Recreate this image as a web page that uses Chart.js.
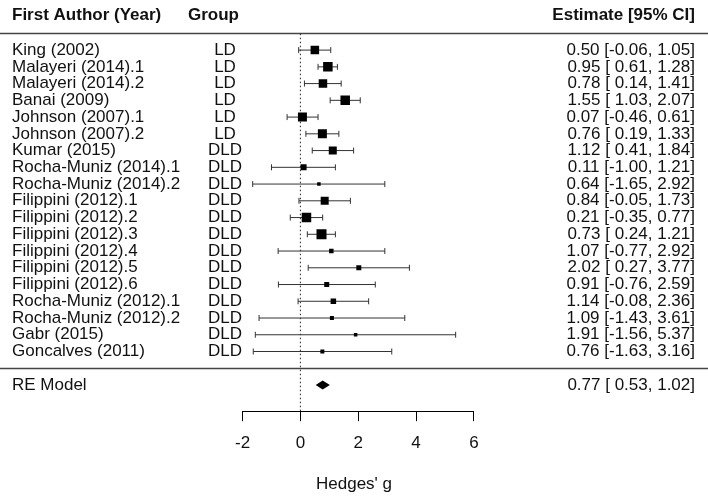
<!DOCTYPE html>
<html>
<head>
<meta charset="utf-8">
<script src="https://cdn.jsdelivr.net/npm/chart.js@4/dist/chart.umd.min.js"></script>
<style>
  html, body { margin: 0; padding: 0; background: #fff; }
  #wrap { width: 708px; height: 496px; }
</style>
</head>
<body>
<div id="wrap"><canvas id="c" width="708" height="496" style="width:708px;height:496px"></canvas></div>
<script>
// ---- data ----
const authors = [
  'King (2002)', 'Malayeri (2014).1', 'Malayeri (2014).2', 'Banai (2009)',
  'Johnson (2007).1', 'Johnson (2007).2', 'Kumar (2015)', 'Rocha-Muniz (2014).1',
  'Rocha-Muniz (2014).2', 'Filippini (2012).1', 'Filippini (2012).2', 'Filippini (2012).3',
  'Filippini (2012).4', 'Filippini (2012).5', 'Filippini (2012).6', 'Rocha-Muniz (2012).1',
  'Rocha-Muniz (2012).2', 'Gabr (2015)', 'Goncalves (2011)'
];
const groups = ['LD','LD','LD','LD','LD','LD','DLD','DLD','DLD','DLD','DLD','DLD','DLD','DLD','DLD','DLD','DLD','DLD','DLD'];
const estimates = [0.50, 0.95, 0.78, 1.55, 0.07, 0.76, 1.12, 0.11, 0.64, 0.84, 0.21, 0.73, 1.07, 2.02, 0.91, 1.14, 1.09, 1.91, 0.76];
const ciLower   = [-0.06, 0.61, 0.14, 1.03, -0.46, 0.19, 0.41, -1.00, -1.65, -0.05, -0.35, 0.24, -0.77, 0.27, -0.76, -0.08, -1.43, -1.56, -1.63];
const ciUpper   = [1.05, 1.28, 1.41, 2.07, 0.61, 1.33, 1.84, 1.21, 2.92, 1.73, 0.77, 1.21, 2.92, 3.77, 2.59, 2.36, 3.61, 5.37, 3.16];
// relative study weights (square sizes, px side)
const weights   = [8.5, 9.5, 8.5, 9.5, 9, 9, 8, 6, 3.5, 8, 9.5, 10, 4.5, 5, 5, 5.5, 4, 3.5, 4];
const reEstimate = 0.77;
const reLower = 0.53;
const reUpper = 1.02;
const xTickValues = [-2, 0, 2, 4, 6];
const xAxisTitle = "Hedges' g";
const headers = ['First Author (Year)', 'Group', 'Estimate [95% CI]'];

// ---- layout helpers ----
const FONT = "'Liberation Sans', Arial, Helvetica, sans-serif";
const k = authors.length;
const rows = authors.map((_, i) => k - i);   // k..1
const reRow = -1;
const headerRow = k + 2;
const X_MIN = -10.146, X_MAX = 13.854;
const Y_MIN = -2.565, Y_MAX = 21.57;

function fmt(v) { return v.toFixed(2); }
function fmtLow(v) { return (v < 0 ? '' : ' ') + v.toFixed(2); }
function ciText(e, l, u) { return fmt(e) + ' [' + fmtLow(l) + ', ' + fmt(u) + ']'; }

const datasets = [];
// reference line at 0
datasets.push({
  type: 'line', order: 10,
  data: [{x: 0, y: Y_MIN}, {x: 0, y: k + 1}],
  borderColor: '#222', borderWidth: 1, borderDash: [1.5, 2.5],
  pointRadius: 0
});
// CI lines with caps
authors.forEach((a, i) => {
  datasets.push({
    type: 'line', order: 5,
    data: [{x: ciLower[i], y: rows[i]}, {x: ciUpper[i], y: rows[i]}],
    borderColor: '#333', borderWidth: 1,
    pointStyle: 'line', pointRotation: 90, pointRadius: 3,
    pointBorderWidth: 1, pointBorderColor: '#333', pointBackgroundColor: '#333'
  });
});
// squares
datasets.push({
  type: 'scatter', order: 1,
  data: estimates.map((e, i) => ({x: e, y: rows[i]})),
  pointStyle: 'rect',
  pointRadius: weights.map(w => w / Math.SQRT2 * 1.0),
  backgroundColor: '#000', borderWidth: 0, pointBorderWidth: 0
});

const forestPlugin = {
  id: 'forest',
  beforeDatasetsDraw(chart) {
    const ctx = chart.ctx;
    const xs = chart.scales.x, ys = chart.scales.y;
    ctx.save();
    ctx.strokeStyle = '#444';
    ctx.lineWidth = 1.3;
    [k + 1, 0].forEach(r => {
      const y = Math.round(ys.getPixelForValue(r)) + 0.5;
      ctx.beginPath();
      ctx.moveTo(0, y);
      ctx.lineTo(chart.width, y);
      ctx.stroke();
    });
    // x axis line from first to last tick
    const yb = Math.round(chart.chartArea.bottom) + 0.5;
    ctx.strokeStyle = '#000';
    ctx.lineWidth = 1;
    ctx.beginPath();
    ctx.moveTo(xs.getPixelForValue(xTickValues[0]), yb);
    ctx.lineTo(xs.getPixelForValue(xTickValues[xTickValues.length - 1]), yb);
    ctx.stroke();
    ctx.restore();
  },
  afterDatasetsDraw(chart) {
    const ctx = chart.ctx;
    const xs = chart.scales.x, ys = chart.scales.y;
    ctx.save();
    // RE diamond
    const yc = ys.getPixelForValue(reRow);
    ctx.fillStyle = '#000';
    ctx.beginPath();
    ctx.moveTo(xs.getPixelForValue(reLower), yc);
    ctx.lineTo(xs.getPixelForValue(reEstimate), yc - 4.5);
    ctx.lineTo(xs.getPixelForValue(reUpper), yc);
    ctx.lineTo(xs.getPixelForValue(reEstimate), yc + 4.5);
    ctx.closePath();
    ctx.fill();

    ctx.fillStyle = '#111';
    ctx.textBaseline = 'middle';
    // headers
    const yh = ys.getPixelForValue(headerRow) - 1;
    ctx.font = 'bold 17px ' + FONT;
    ctx.textAlign = 'left';
    ctx.fillText(headers[0], 12, yh);
    ctx.fillText(headers[1], 188, yh);
    ctx.textAlign = 'right';
    ctx.fillText(headers[2], 695, yh);
    // rows
    ctx.font = '17px ' + FONT;
    authors.forEach((a, i) => {
      const y = ys.getPixelForValue(rows[i]);
      ctx.textAlign = 'left';
      ctx.fillText(a, 12, y);
      ctx.textAlign = 'center';
      ctx.fillText(groups[i], 225, y);
      ctx.textAlign = 'right';
      ctx.fillText(ciText(estimates[i], ciLower[i], ciUpper[i]), 695, y);
    });
    ctx.textAlign = 'left';
    ctx.fillText('RE Model', 12, yc);
    ctx.textAlign = 'right';
    ctx.fillText(ciText(reEstimate, reLower, reUpper), 695, yc);
    ctx.restore();
  }
};

new Chart(document.getElementById('c'), {
  data: { datasets },
  options: {
    responsive: false,
    animation: false,
    events: [],
    layout: { padding: 0 },
    plugins: { legend: { display: false }, tooltip: { enabled: false } },
    scales: {
      x: {
        type: 'linear', position: 'bottom',
        min: X_MIN, max: X_MAX,
        afterBuildTicks(scale) { scale.ticks = xTickValues.map(v => ({value: v})); },
        border: { display: false },
        grid: { display: true, drawOnChartArea: false, drawTicks: true, tickLength: 10, color: '#000', lineWidth: 1 },
        ticks: { color: '#111', padding: 12, font: { family: FONT, size: 17 }, maxRotation: 0, autoSkip: false },
        title: { display: true, text: xAxisTitle, color: '#111', font: { family: FONT, size: 17 }, padding: { top: 9, bottom: 1 } }
      },
      y: {
        type: 'linear', display: false,
        min: Y_MIN, max: Y_MAX
      }
    }
  },
  plugins: [forestPlugin]
});
</script>
</body>
</html>
